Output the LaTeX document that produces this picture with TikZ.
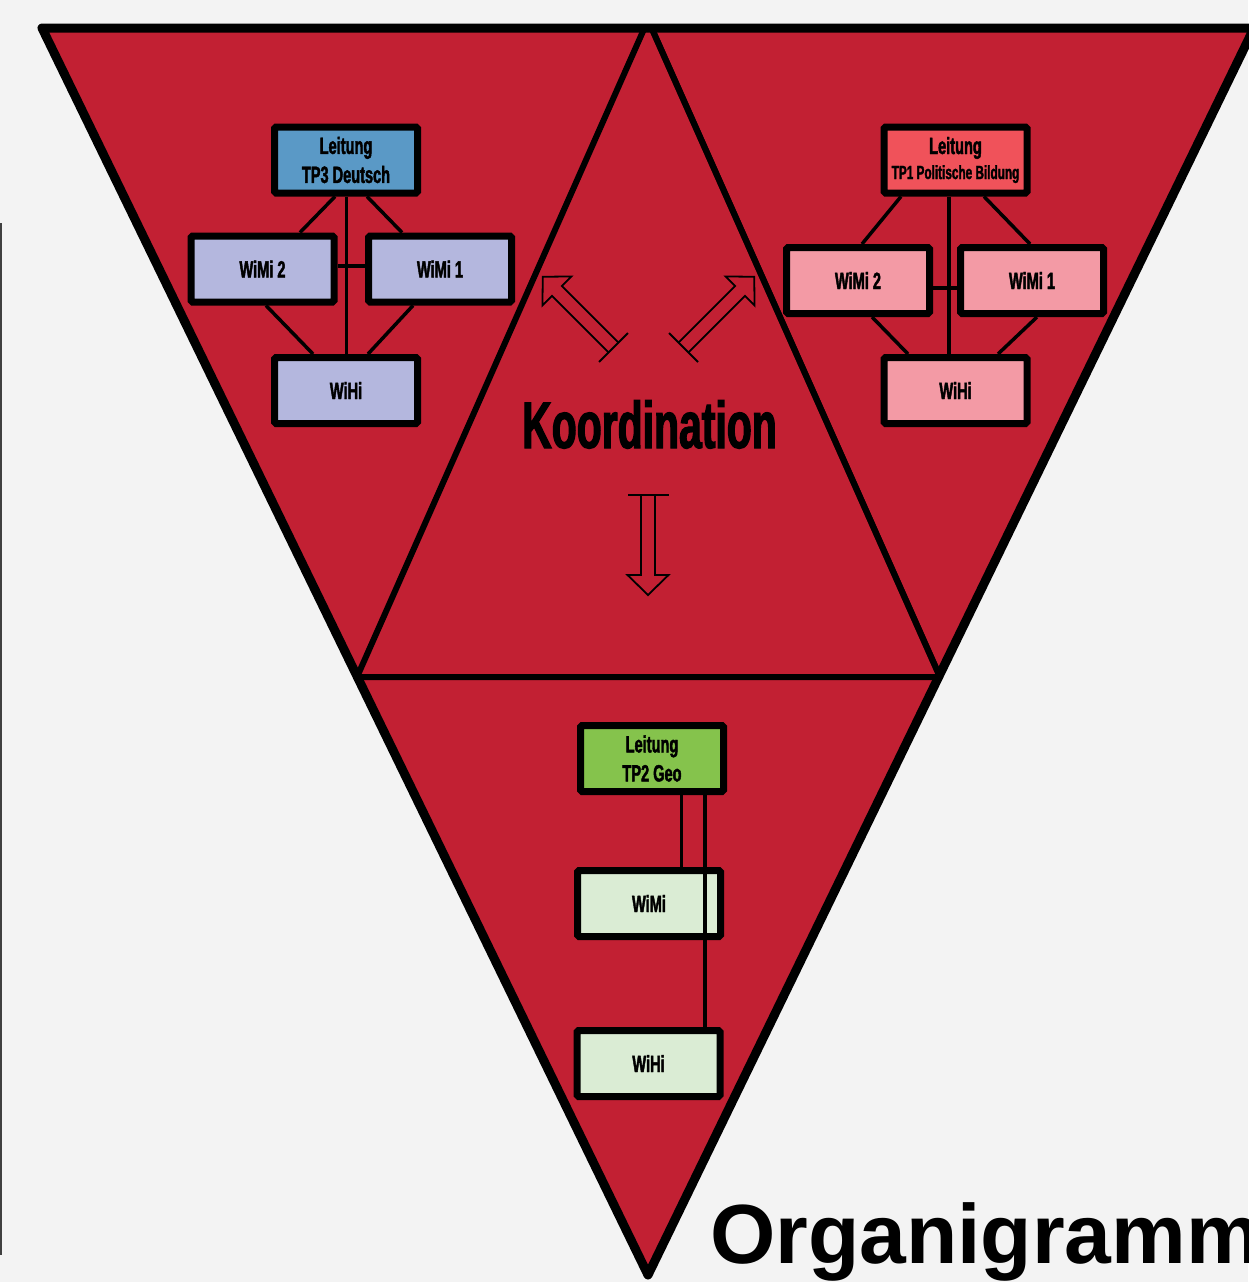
\documentclass[tikz,border=0pt]{standalone}
\usepackage{fontspec}
\setmainfont{Liberation Sans}
\newfontfamily\condfont[FakeStretch=0.62,FakeBold=1.8]{Liberation Sans}
\newfontfamily\titlefont{Liberation Sans}
\definecolor{bgc}{RGB}{243,243,243}
\definecolor{redfill}{RGB}{194,32,51}
\definecolor{blueh}{RGB}{90,153,198}
\definecolor{lavender}{RGB}{180,183,222}
\definecolor{pinkh}{RGB}{240,82,90}
\definecolor{pinkl}{RGB}{243,154,165}
\definecolor{greenh}{RGB}{133,195,76}
\definecolor{greenl}{RGB}{218,236,212}
\tikzset{
  box/.style={draw=black, line width=7pt, rounded corners=1.5pt, minimum width=143pt, minimum height=66pt, inner sep=0pt, align=center, text=black, font=\condfont\bfseries\fontsize{23.5}{29}\selectfont},
  conn/.style={draw=black, line width=3.5pt},
  arrowline/.style={draw=black, line width=1.8pt, line join=miter},
  hollowarrow/.pic={
    \draw[arrowline] (0,-20.5) -- (0,20.5);
    \draw[arrowline] (0,7) -- (80,7) -- (80,20.5) -- (100,0) -- (80,-20.5) -- (80,-7) -- (0,-7);
  }
}
\begin{document}
\begin{tikzpicture}[x=1pt,y=-1pt]
\useasboundingbox (0,0) rectangle (1248,1282);
\fill[bgc] (0,0) rectangle (1248,1282);
% thin left line
\draw[line width=2pt, color=black!75] (1,223) -- (1,1255);
% big triangle
\fill[redfill] (42,28) -- (1254,28) -- (648,1275) -- cycle;
% inner triangle, clipped to the big one
\begin{scope}
  \clip (42,28) -- (1254,28) -- (648,1275) -- cycle;
  \draw[line width=6pt, line join=miter] (648,20) -- (357,677) -- (940,677) -- cycle;
  \draw[line width=6pt] (648,20) -- (940,677);
\end{scope}
% outer border
\draw[line width=9pt, line join=round] (42,28) -- (1254,28) -- (648,1275) -- cycle;

% arrows
\pic[rotate=135] at (613.5,347.5) {hollowarrow};
\pic[rotate=45] at (683.5,347.5) {hollowarrow};
\pic[rotate=-90] at (648,495) {hollowarrow};

\node[anchor=base, inner sep=0pt, font=\condfont\bfseries\fontsize{66}{70}\selectfont] (koord) at (649.5,448) {Koordination};

% left group
\node[box, fill=blueh] (lt) at (346,160) {Leitung\\TP3 Deutsch};
\node[box, fill=lavender] (lw2) at (262.5,269) {WiMi 2};
\node[box, fill=lavender] (lw1) at (440,269) {WiMi 1};
\node[box, fill=lavender] (lh) at (346,390.5) {WiHi};
\draw[conn] ([xshift=0.7pt]lt.south) -- ([xshift=0.7pt]lh.north);
\draw[conn] ([yshift=3pt]lw2.east) -- ([yshift=3pt]lw1.west);
\draw[conn] ([xshift=-11pt]lt.south) -- ([xshift=37.5pt]lw2.north);
\draw[conn] ([xshift=21pt]lt.south) -- ([xshift=-38pt]lw1.north);
\draw[conn] ([xshift=3.5pt]lw2.south) -- ([xshift=-33pt]lh.north);
\draw[conn] ([xshift=-27pt]lw1.south) -- ([xshift=22pt]lh.north);

% right group
\node[box, fill=pinkh] (rt) at (955.5,160) {Leitung\\[-4pt]{\fontsize{19}{23}\selectfont TP1 Politische Bildung}};
\node[box, fill=pinkl] (rw2) at (858,280.5) {WiMi 2};
\node[box, fill=pinkl] (rw1) at (1032,280.5) {WiMi 1};
\node[box, fill=pinkl] (rh) at (955.5,390.5) {WiHi};
\draw[conn] ([xshift=-6.5pt]rt.south) -- ([xshift=-6.5pt]rh.north);
\draw[conn] ([yshift=-7.5pt]rw2.east) -- ([yshift=-7.5pt]rw1.west);
\draw[conn] ([xshift=-54.5pt]rt.south) -- ([xshift=4pt]rw2.north);
\draw[conn] ([xshift=28.5pt]rt.south) -- ([xshift=-2pt]rw1.north);
\draw[conn] ([xshift=14pt]rw2.south) -- ([xshift=-47.5pt]rh.north);
\draw[conn] ([xshift=5pt]rw1.south) -- ([xshift=42.5pt]rh.north);

% bottom group
\node[box, fill=greenh] (gt) at (652,758.5) {Leitung\\TP2 Geo};
\node[box, fill=greenl] (gw) at (649,903.5) {WiMi};
\node[box, fill=greenl] (gh) at (648.5,1063.5) {WiHi};
\draw[conn] ([xshift=29.5pt]gt.south) -- ([xshift=32.5pt]gw.north);
\draw[conn] ([xshift=53pt]gt.south) -- ([xshift=56.5pt]gh.north);

% title
\node[anchor=base west, inner sep=0pt, font=\titlefont\bfseries\fontsize{84}{90}\selectfont] (title) at (710,1263) {Organigramm};
\end{tikzpicture}
\end{document}
